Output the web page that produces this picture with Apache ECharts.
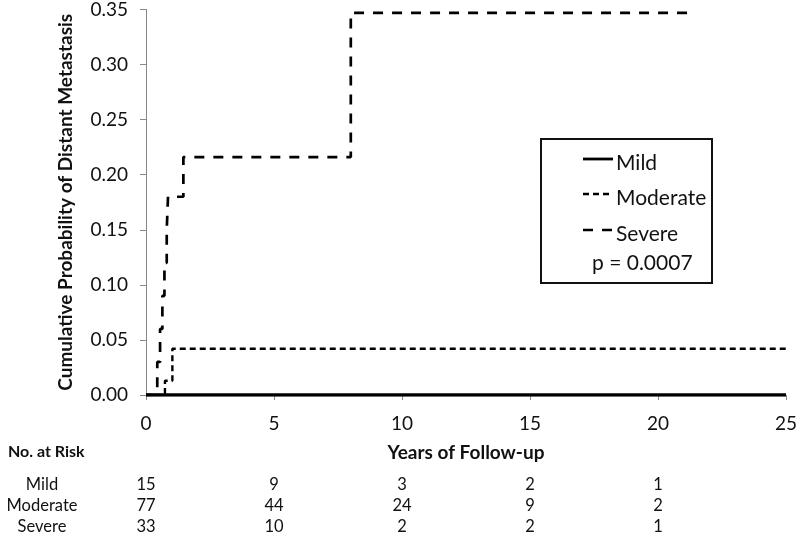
<!DOCTYPE html>
<html>
<head>
<meta charset="utf-8">
<script src="https://cdn.jsdelivr.net/npm/echarts@6/dist/echarts.min.js"></script>
<style>
  html, body { margin: 0; padding: 0; background: #fff; }
  #chart { width: 800px; height: 538px; }
</style>
</head>
<body>
<div id="chart"></div>
<script>
// step data: [years, cumulative probability]
const mild = [[0, 0], [25, 0]];
const moderate = [[0, 0], [0.74, 0.013], [1.03, 0.042], [25, 0.042]];
const severe = [
  [0, 0], [0.44, 0.03], [0.55, 0.06], [0.64, 0.09], [0.72, 0.12],
  [0.81, 0.15], [0.86, 0.18], [1.46, 0.216], [8.0, 0.347], [21.4, 0.347]
];

// number at risk at 0, 5, 10, 15, 20 years
const riskYears = [0, 5, 10, 15, 20];
const riskMild = [15, 9, 3, 2, 1];
const riskModerate = [77, 44, 24, 9, 2];
const riskSevere = [33, 10, 2, 2, 1];
const riskLabels = ["Mild", "Moderate", "Severe"];
const groupNames = ["Mild", "Moderate", "Severe"];
const dashes = [null, [6, 4], [10, 9]];

const font = "Lato, 'Open Sans', sans-serif";
const ink = "#111";
const chart = echarts.init(document.getElementById("chart"));

function riskAxis(values, offset) {
  return {
    type: "value", min: 0, max: 25, interval: 5, position: "bottom", offset: offset,
    axisLine: { show: false }, axisTick: { show: false }, splitLine: { show: false },
    axisLabel: {
      margin: 0, fontSize: 16.5, color: ink, fontFamily: font,
      formatter: function (v) {
        const i = riskYears.indexOf(v);
        return i >= 0 ? String(values[i]) : "";
      }
    }
  };
}

// hand-drawn legend box, as in the original figure
const legendRows = [163, 198, 234];
const legendGraphics = [];
groupNames.forEach((name, i) => {
  legendGraphics.push({
    type: "line", shape: { x1: 583, y1: legendRows[i] - 4, x2: 613, y2: legendRows[i] - 4 },
    style: { stroke: "#000", lineWidth: i === 0 ? 2.8 : 2.6, lineDash: dashes[i] }
  });
  legendGraphics.push({
    type: "text", x: 616, y: legendRows[i],
    style: { text: name, fontSize: 21, fill: ink, fontFamily: font, verticalAlign: "middle" }
  });
});

const option = {
  animation: false,
  backgroundColor: "#fff",
  grid: { left: 146, right: 14, top: 8, bottom: 143 },
  xAxis: [
    {
      type: "value", min: 0, max: 25, interval: 5,
      name: "Years of Follow-up", nameLocation: "middle", nameGap: 48,
      nameTextStyle: { fontSize: 19, fontWeight: "bold", color: ink, fontFamily: font },
      axisLine: { lineStyle: { color: "#888", width: 1 } },
      axisTick: { length: 5, lineStyle: { color: "#888" } },
      splitLine: { show: false },
      axisLabel: { margin: 19, fontSize: 19, color: ink, fontFamily: font }
    },
    riskAxis(riskMild, 81),
    riskAxis(riskModerate, 102),
    riskAxis(riskSevere, 123)
  ],
  yAxis: {
    type: "value", min: 0, max: 0.35, interval: 0.05,
    name: "Cumulative Probability of Distant Metastasis", nameLocation: "middle", nameGap: 71,
    nameTextStyle: { fontSize: 19, fontWeight: "bold", color: ink, fontFamily: font },
    axisLine: { show: true, lineStyle: { color: "#888", width: 1 } },
    axisTick: { show: true, length: 6, lineStyle: { color: "#888" } },
    splitLine: { show: false },
    axisLabel: { margin: 18, fontSize: 19, color: ink, fontFamily: font, formatter: v => v.toFixed(2) }
  },
  series: [
    {
      name: "Mild", type: "line", step: "end", data: mild, symbol: "none",
      lineStyle: { color: "#000", width: 3.5, type: "solid" }
    },
    {
      name: "Moderate", type: "line", step: "end", data: moderate, symbol: "none",
      lineStyle: { color: "#000", width: 2.4, type: dashes[1] }
    },
    {
      name: "Severe", type: "line", step: "end", data: severe, symbol: "none",
      lineStyle: { color: "#000", width: 2.7, type: dashes[2] }
    }
  ],
  graphic: [
    { type: "rect", shape: { x: 541, y: 139, width: 171, height: 144 },
      style: { fill: "none", stroke: ink, lineWidth: 2 } },
    { type: "text", x: 592, y: 263,
      style: { text: "p = 0.0007", fontSize: 21, fill: ink, fontFamily: font, verticalAlign: "middle" } },
    { type: "text", x: 8, y: 452,
      style: { text: "No. at Risk", fontSize: 16, fontWeight: "bold", fill: ink, fontFamily: font, verticalAlign: "middle" } }
  ].concat(legendGraphics).concat(riskLabels.map((t, i) => ({
    type: "text", x: 42, y: 485 + i * 21,
    style: { text: t, fontSize: 16.5, fill: ink, fontFamily: font, align: "center", verticalAlign: "middle" }
  })))
};

chart.setOption(option);
</script>
</body>
</html>
